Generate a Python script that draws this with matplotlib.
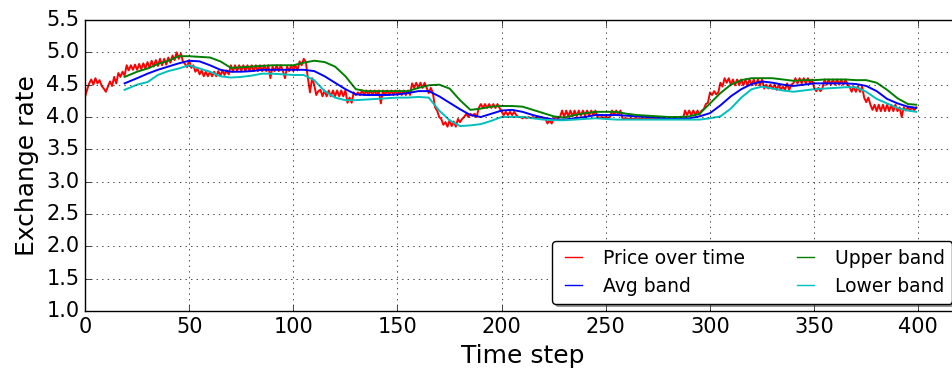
import numpy as np
import matplotlib
matplotlib.use('Agg')
import matplotlib.pyplot as plt

plt.style.use('classic')

# price, one value per time step (0..399)
price = [
    4.31, 4.42, 4.52, 4.58, 4.50, 4.60, 4.52, 4.57, 4.48, 4.44,
    4.39, 4.47, 4.55, 4.48, 4.62, 4.52, 4.68, 4.62, 4.70, 4.64,
    4.80, 4.72, 4.80, 4.73, 4.81, 4.73, 4.82, 4.74, 4.83, 4.75,
    4.85, 4.76, 4.87, 4.78, 4.88, 4.79, 4.90, 4.80, 4.90, 4.81,
    4.92, 4.84, 4.95, 4.88, 5.00, 4.90, 4.98, 4.86, 4.82, 4.77,
    4.88, 4.76, 4.80, 4.70, 4.75, 4.66, 4.72, 4.63, 4.70, 4.63,
    4.70, 4.63, 4.70, 4.63, 4.71, 4.64, 4.72, 4.65, 4.72, 4.66,
    4.80, 4.70, 4.80, 4.71, 4.80, 4.71, 4.80, 4.71, 4.80, 4.71,
    4.80, 4.71, 4.80, 4.71, 4.80, 4.71, 4.80, 4.71, 4.80, 4.60,
    4.78, 4.71, 4.80, 4.71, 4.80, 4.71, 4.60, 4.78, 4.71, 4.80,
    4.71, 4.80, 4.72, 4.86, 4.80, 4.90, 4.85, 4.60, 4.38, 4.60,
    4.50, 4.34, 4.40, 4.42, 4.32, 4.41, 4.32, 4.41, 4.32, 4.41,
    4.32, 4.41, 4.32, 4.41, 4.32, 4.41, 4.22, 4.30, 4.22, 4.38,
    4.34, 4.38, 4.34, 4.41, 4.34, 4.41, 4.34, 4.41, 4.34, 4.41,
    4.34, 4.41, 4.21, 4.41, 4.34, 4.41, 4.34, 4.41, 4.34, 4.41,
    4.34, 4.41, 4.34, 4.41, 4.34, 4.41, 4.34, 4.52, 4.45, 4.53,
    4.45, 4.53, 4.45, 4.53, 4.45, 4.37, 4.45, 4.37, 4.15, 4.10,
    4.00, 3.97, 3.88, 3.92, 3.85, 3.95, 3.86, 3.93, 3.85, 3.97,
    3.92, 3.97, 4.00, 4.05, 4.00, 4.05, 4.02, 4.05, 4.00, 4.14,
    4.20, 4.14, 4.20, 4.14, 4.20, 4.14, 4.20, 4.14, 4.20, 4.14,
    4.08, 4.03, 4.08, 4.03, 4.08, 4.03, 4.08, 4.03, 4.00, 4.00,
    3.98, 4.00, 3.98, 4.00, 3.98, 4.00, 3.98, 4.00, 3.98, 4.00,
    3.98, 3.97, 3.90, 3.95, 3.90, 3.97, 4.00, 3.98, 4.00, 4.10,
    4.00, 4.10, 4.01, 4.10, 4.01, 4.10, 4.01, 4.10, 4.02, 4.10,
    4.02, 4.10, 4.02, 4.10, 4.03, 4.10, 4.00, 3.99, 4.00, 3.99,
    4.00, 3.99, 4.00, 4.10, 4.03, 4.10, 4.03, 4.10, 3.98, 3.97,
    3.98, 3.97, 3.98, 3.97, 3.98, 3.97, 3.98, 3.97, 3.98, 3.97,
    3.98, 3.97, 3.98, 3.97, 3.98, 3.97, 3.98, 3.97, 3.98, 3.97,
    3.98, 3.97, 3.98, 3.97, 3.98, 3.97, 3.98, 3.97, 4.10, 4.03,
    4.10, 4.03, 4.10, 4.03, 4.10, 4.04, 4.10, 4.12, 4.20, 4.22,
    4.38, 4.34, 4.40, 4.35, 4.38, 4.53, 4.47, 4.60, 4.53, 4.60,
    4.50, 4.58, 4.49, 4.58, 4.49, 4.58, 4.49, 4.58, 4.49, 4.58,
    4.49, 4.58, 4.49, 4.58, 4.49, 4.58, 4.44, 4.50, 4.44, 4.50,
    4.44, 4.50, 4.42, 4.50, 4.42, 4.47, 4.42, 4.52, 4.42, 4.50,
    4.52, 4.60, 4.52, 4.60, 4.52, 4.60, 4.52, 4.60, 4.52, 4.58,
    4.45, 4.40, 4.45, 4.40, 4.45, 4.58, 4.50, 4.58, 4.50, 4.58,
    4.50, 4.58, 4.50, 4.58, 4.50, 4.58, 4.50, 4.47, 4.39, 4.47,
    4.39, 4.47, 4.39, 4.47, 4.30, 4.23, 4.30, 4.19, 4.11, 4.19,
    4.09, 4.19, 4.09, 4.19, 4.09, 4.19, 4.09, 4.19, 4.09, 4.19,
    4.09, 4.15, 4.00, 4.15, 4.10, 4.15, 4.10, 4.15, 4.10, 4.15,
]

# band values, sampled every 5 steps from step 19 on
band_steps = [19] + list(range(25, 400, 5)) + [399]
upper_band = [
    4.62, 4.70, 4.75, 4.82, 4.87, 4.94, 4.94, 4.93, 4.92, 4.86,
    4.76, 4.77, 4.78, 4.79, 4.80, 4.80, 4.80, 4.84, 4.87, 4.85,
    4.78, 4.63, 4.43, 4.40, 4.40, 4.40, 4.40, 4.40, 4.45, 4.49,
    4.50, 4.44, 4.26, 4.11, 4.13, 4.16, 4.17, 4.17, 4.16, 4.11,
    4.06, 4.01, 3.99, 4.03, 4.06, 4.08, 4.08, 4.08, 4.05, 4.03,
    4.02, 4.01, 4.00, 4.00, 4.01, 4.05, 4.21, 4.37, 4.50, 4.57,
    4.60, 4.60, 4.60, 4.58, 4.56, 4.57, 4.57, 4.58, 4.58, 4.58,
    4.57, 4.57, 4.53, 4.42, 4.29, 4.20, 4.19,
]
avg_band = [
    4.52, 4.60, 4.67, 4.73, 4.78, 4.83, 4.87, 4.86, 4.80, 4.73,
    4.70, 4.70, 4.71, 4.73, 4.73, 4.73, 4.73, 4.73, 4.71, 4.63,
    4.53, 4.43, 4.35, 4.34, 4.34, 4.34, 4.35, 4.37, 4.40, 4.40,
    4.32, 4.22, 4.12, 4.03, 4.00, 4.05, 4.10, 4.11, 4.08, 4.03,
    3.99, 3.96, 3.96, 3.98, 4.00, 4.03, 4.03, 4.03, 4.02, 4.01,
    4.00, 3.99, 3.98, 3.98, 3.98, 4.01, 4.06, 4.18, 4.32, 4.43,
    4.51, 4.55, 4.53, 4.50, 4.48, 4.50, 4.52, 4.52, 4.52, 4.52,
    4.51, 4.48, 4.40, 4.28, 4.21, 4.16, 4.14,
]
lower_band = [
    4.42, 4.50, 4.54, 4.65, 4.71, 4.75, 4.80, 4.75, 4.70, 4.63,
    4.61, 4.62, 4.64, 4.67, 4.67, 4.66, 4.65, 4.65, 4.57, 4.40,
    4.30, 4.26, 4.26, 4.27, 4.28, 4.29, 4.30, 4.30, 4.31, 4.30,
    4.10, 3.95, 3.86, 3.87, 3.89, 3.94, 4.00, 4.00, 4.00, 3.98,
    3.96, 3.95, 3.95, 3.96, 3.97, 3.98, 3.97, 3.96, 3.96, 3.96,
    3.96, 3.96, 3.96, 3.96, 3.96, 3.96, 3.98, 4.01, 4.13, 4.30,
    4.43, 4.47, 4.44, 4.41, 4.39, 4.41, 4.43, 4.44, 4.45, 4.46,
    4.46, 4.39, 4.28, 4.21, 4.14, 4.10, 4.08,
]

steps = np.arange(len(price))

fig = plt.figure(figsize=(9.53, 3.76), dpi=100, facecolor='white')
ax = fig.add_axes([85 / 953, 65 / 376, 875 / 953, 291 / 376])

lw = 1.4
ax.plot(steps, price, 'r', lw=lw, label='Price over time')
ax.plot(band_steps, avg_band, 'b', lw=lw, label='Avg band')
ax.plot(band_steps, upper_band, 'g', lw=lw, label='Upper band')
ax.plot(band_steps, lower_band, 'c', lw=lw, label='Lower band')

ax.set_xlim(0, 420)
ax.set_ylim(1.0, 5.5)
ax.set_xticks(np.arange(0, 401, 50))
ax.set_yticks(np.arange(1.0, 5.51, 0.5))
ax.grid(True)
ax.tick_params(labelsize=15)

ax.set_xlabel('Time step', fontsize=18)
ax.set_ylabel('Exchange rate', fontsize=18)

leg = ax.legend(loc='lower right', ncol=2, fontsize=13.5, fancybox=True,
                shadow=True, handlelength=1.5, borderaxespad=0.4,
                columnspacing=2.5, labelspacing=0.5)
for line in leg.get_lines():
    line.set_linewidth(1.0)

fig.savefig('out.png', dpi=100, facecolor='white')
